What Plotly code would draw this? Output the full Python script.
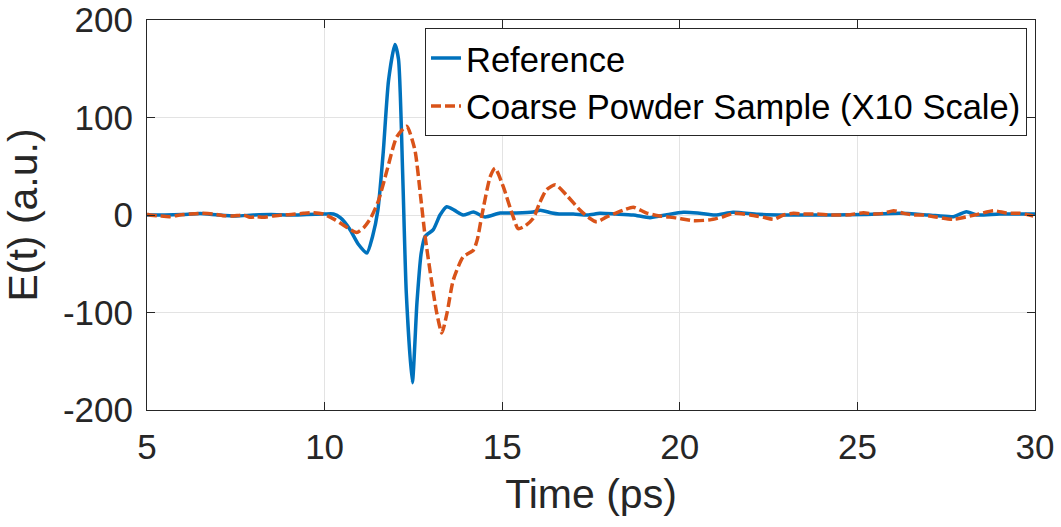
import plotly.graph_objects as go

ref_t = [5.0, 5.5, 6.0, 6.5, 7.0, 7.5, 8.0, 8.5, 9.0, 9.5, 10.0, 10.25, 10.45, 10.7, 10.95, 11.19,
         11.35, 11.5, 11.65, 11.8, 11.98, 12.08, 12.2, 12.3, 12.47, 12.6, 12.72, 12.83, 13.06,
         13.25, 13.44, 13.65, 13.9, 14.19, 14.52, 14.94, 15.4, 15.87, 16.07, 16.4, 16.6, 17.0,
         17.4, 17.75, 18.2, 18.69, 19.16, 19.6, 20.1, 20.5, 21.0, 21.5, 22.2, 23.0, 24.3, 25.2,
         26.2, 27.0, 27.7, 28.07, 28.36, 29.0, 30.0]
ref_e = [0, 0, 0.5, 1.5, 0, -1, 0, 0.5, 0, 0.5, 1, 1, -3, -14, -30, -39,
         -22, 5, 64, 138, 175, 160, 40, -80, -172, -90, -39, -22, -15,
         0, 8.5, 5, 0, 3, -2, 2, 2, 3, 5, 2, 1, 1,
         0, 1.7, 1, 0, -2.7, 0, 2.7, 2, 0, 2.7, 0.7, 0, 0, 0.5,
         1.7, 0, -1.7, 3.4, 0, 1, 1]

smp_t = [5.0, 5.08, 5.36, 5.64, 5.92, 6.21, 6.53, 6.86, 7.14, 7.43, 7.71, 7.9, 8.08, 8.27, 8.55,
         8.83, 9.12, 9.4, 9.68, 9.96, 10.3,
         10.6, 10.9, 11.1, 11.3, 11.51, 11.75, 12.03, 12.31, 12.54, 12.7, 12.83, 13.0, 13.16,
         13.3, 13.45, 13.62, 13.9, 14.19, 14.3, 14.42, 14.66, 14.8, 15.03, 15.31, 15.45, 15.65,
         15.88, 16.05, 16.25, 16.5, 16.82, 17.19, 17.45, 17.66, 17.94, 18.2, 18.41, 18.69, 19.07,
         19.44, 19.91, 20.38, 20.85, 21.2, 21.5, 21.98, 22.36, 22.64, 22.92, 23.2, 23.48, 23.86,
         24.23, 24.51, 24.8, 25.17, 25.45, 25.73, 26.02, 26.3, 26.58, 26.86, 27.2, 27.7, 28.3,
         28.83, 29.2, 29.58, 29.95]
smp_e = [1.0, 0, -1, -1.7, 0, 1, 1.7, 1, -0.7, -1, 0, -2.4, -1.7, -2.4, -1,
         0, 0.7, 1.7, 2.4, 1, -5,
         -12, -18, -13, -3, 14, 45, 80, 91, 67, 20, -22, -65, -101,
         -121, -100, -67, -43, -36, -25, -2, 39, 48, 29, -2, -14, -11,
         -3, 12, 26, 31, 20, 5, -3, -7, -2, 2, 5, 8, 2,
         -1, -3, -5.8, -5, -2, 1.7, 0, -2.4, -4.4, 0, 1.7, 1, 1,
         0, 0, 0.3, 2.4, 1, 1.7, 4.4, 1.7, 0, 0, -2, -4.4, 0,
         4.4, 2, 1.7, -1]

x_ticks = [5, 10, 15, 20, 25, 30]
y_ticks = [-200, -100, 0, 100, 200]

fig = go.Figure()
fig.add_trace(go.Scatter(x=ref_t, y=ref_e, mode="lines", name="Reference",
                         line=dict(color="#0072BD", width=3.5, shape="spline", smoothing=0.6)))
fig.add_trace(go.Scatter(x=smp_t, y=smp_e, mode="lines", name="Coarse Powder Sample (X10 Scale)",
                         line=dict(color="#D95319", width=3.5, shape="spline", smoothing=0.6,
                                   dash="10px,4px")))

font = "Liberation Sans, Arial, sans-serif"
axis_common = dict(showgrid=True, gridcolor="#E3E3E3", gridwidth=1, zeroline=False,
                   showline=True, linecolor="#262626", linewidth=1, mirror="ticks",
                   ticks="inside", ticklen=8, tickcolor="#262626", automargin=False,
                   tickfont=dict(family=font, size=35, color="#262626"))

fig.update_xaxes(range=[5, 30], tickvals=x_ticks, ticktext=[str(v) for v in x_ticks],
                 ticklabelstandoff=6,
                 title=dict(text="Time (ps)", font=dict(family=font, size=41, color="#262626"), standoff=14),
                 **axis_common)
fig.update_yaxes(range=[-200, 200], tickvals=y_ticks, ticktext=[str(v) for v in y_ticks],
                 ticklabelstandoff=6,
                 title=dict(text="E(t) (a.u.)", font=dict(family=font, size=41, color="#262626"), standoff=12),
                 **axis_common)

fig.update_layout(
    width=1061, height=527,
    margin=dict(l=147, r=26, t=20, b=117, autoexpand=False),
    paper_bgcolor="white", plot_bgcolor="white",
    showlegend=True,
    legend=dict(x=0.991, y=0.979, xanchor="right", yanchor="top",
                bgcolor="white", bordercolor="#262626", borderwidth=1,
                font=dict(family=font, size=34.5, color="black"),
                tracegroupgap=0, itemwidth=30),
)

fig.write_html("out.html")
